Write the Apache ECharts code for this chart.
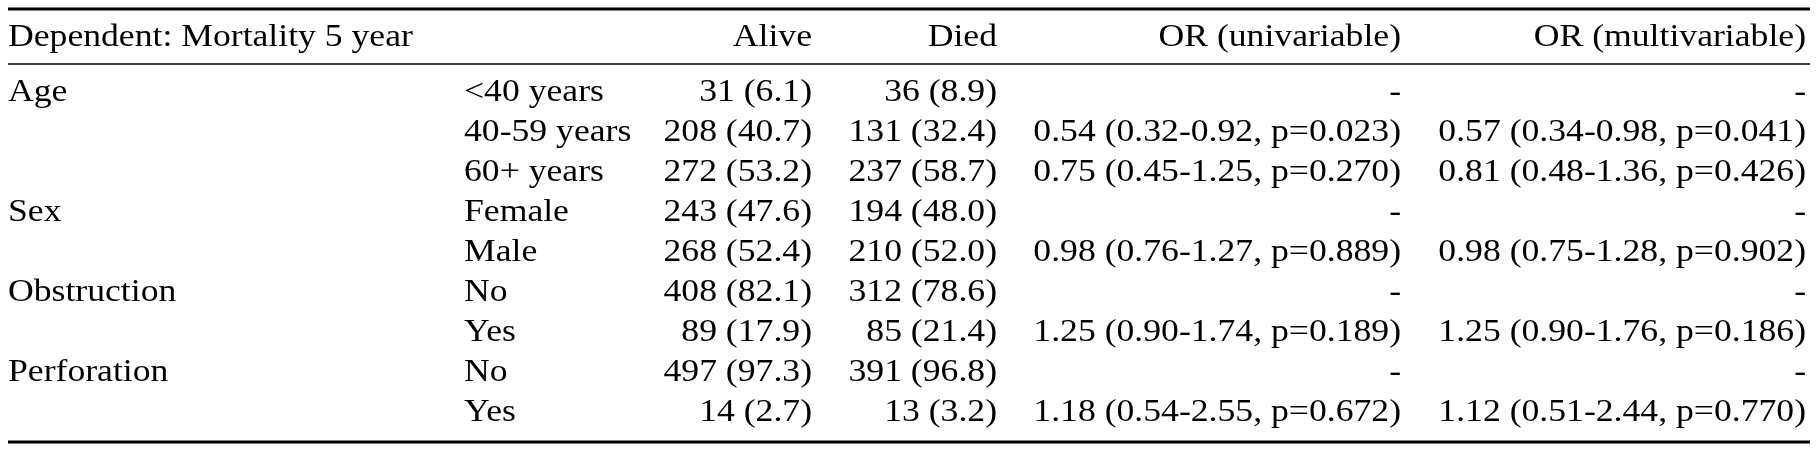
<!DOCTYPE html>
<html><head><meta charset="utf-8">
<script src="https://cdn.jsdelivr.net/npm/echarts@6/dist/echarts.min.js"></script>
<style>html,body{margin:0;background:#fff}#c{width:1818px;height:454px}</style>
</head><body><div id="c"></div>
<script>
var headers = ['Dependent: Mortality 5 year', '', 'Alive', 'Died', 'OR (univariable)', 'OR (multivariable)'];
var variables = ['Age', '', '', 'Sex', '', 'Obstruction', '', 'Perforation', ''];
var levels = ['<40 years', '40-59 years', '60+ years', 'Female', 'Male', 'No', 'Yes', 'No', 'Yes'];
var alive = ['31 (6.1)', '208 (40.7)', '272 (53.2)', '243 (47.6)', '268 (52.4)', '408 (82.1)', '89 (17.9)', '497 (97.3)', '14 (2.7)'];
var died = ['36 (8.9)', '131 (32.4)', '237 (58.7)', '194 (48.0)', '210 (52.0)', '312 (78.6)', '85 (21.4)', '391 (96.8)', '13 (3.2)'];
var orUni = ['-', '0.54 (0.32-0.92, p=0.023)', '0.75 (0.45-1.25, p=0.270)', '-', '0.98 (0.76-1.27, p=0.889)', '-', '1.25 (0.90-1.74, p=0.189)', '-', '1.18 (0.54-2.55, p=0.672)'];
var orMulti = ['-', '0.57 (0.34-0.98, p=0.041)', '0.81 (0.48-1.36, p=0.426)', '-', '0.98 (0.75-1.28, p=0.902)', '-', '1.25 (0.90-1.76, p=0.186)', '-', '1.12 (0.51-2.44, p=0.770)'];

var chart = echarts.init(document.getElementById('c'));
var font = '31px "Liberation Serif", serif';
// column anchor x and alignment
var colX = [8, 464, 812, 997, 1401, 1806];
var colAlign = ['left', 'left', 'right', 'right', 'right', 'right'];
var cols = [variables, levels, alive, died, orUni, orMulti];
var headY = 38, rowY0 = 93, rowH = 40;

var g = [];
function txt(s, x, y, align) {
    g.push({ type: 'text', x: x, y: y, scaleX: 1.15, style: { text: s, font: font, fill: '#000', textAlign: align, textVerticalAlign: 'middle' } });
}
function rule(y, w) {
    g.push({ type: 'line', shape: { x1: 8, y1: y, x2: 1810, y2: y }, style: { stroke: '#000', lineWidth: w } });
}
rule(9, 3);
rule(64, 1.5);
rule(442, 3);
headers.forEach(function (h, i) { txt(h, colX[i], headY, colAlign[i]); });
for (var r = 0; r < levels.length; r++) {
    for (var c = 0; c < cols.length; c++) {
        txt(cols[c][r], colX[c], rowY0 + r * rowH, colAlign[c]);
    }
}
chart.setOption({ animation: false, graphic: g });
</script></body></html>
